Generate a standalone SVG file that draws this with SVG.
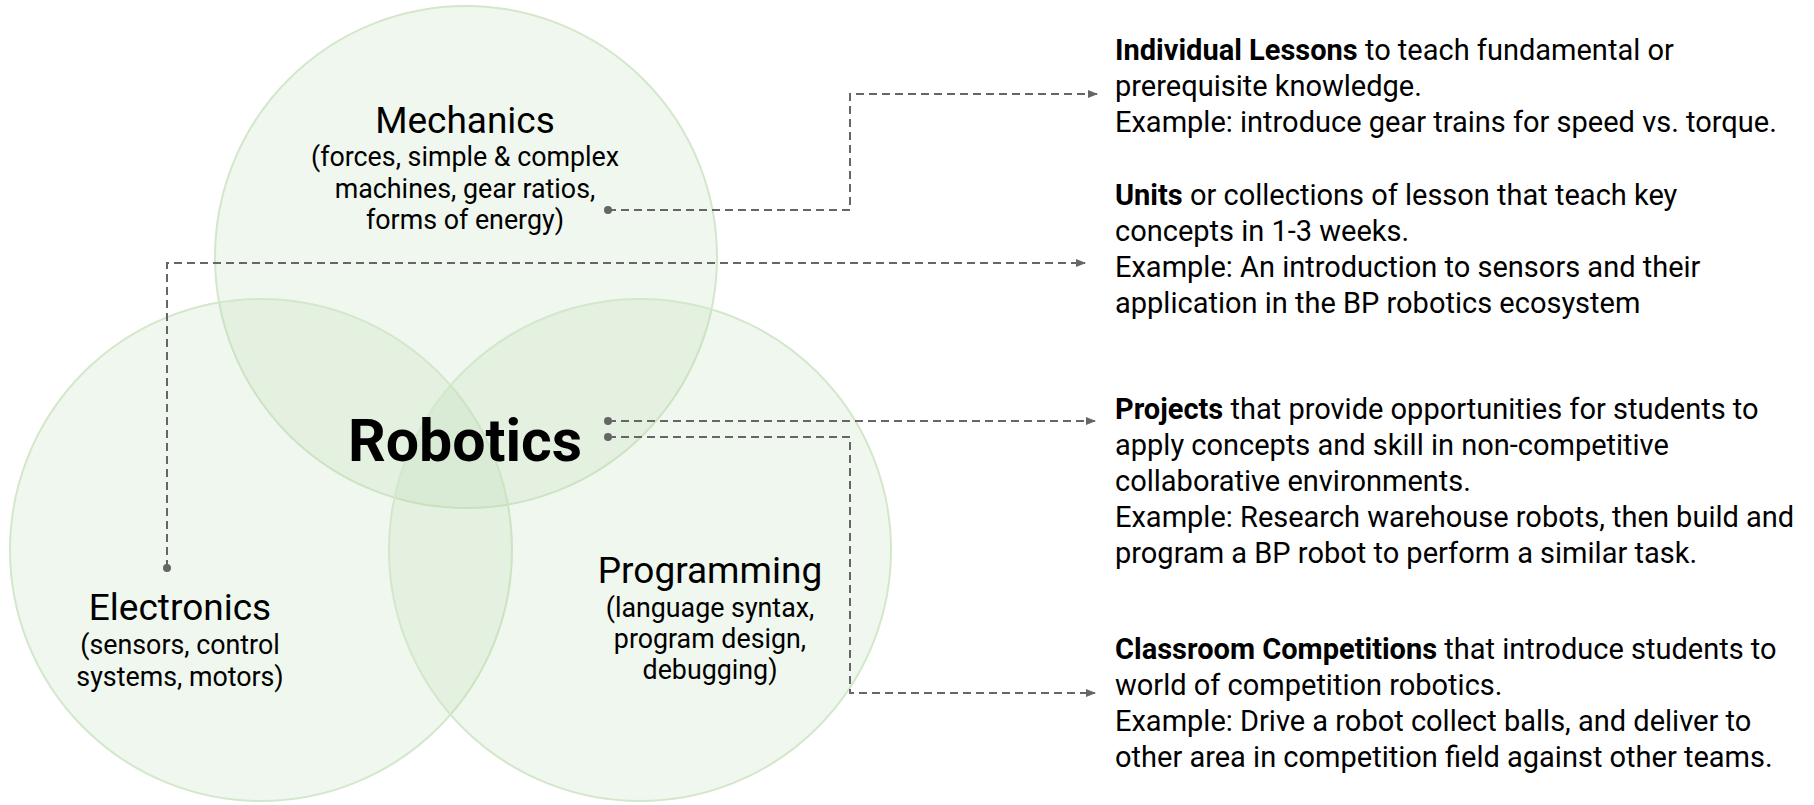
<svg xmlns="http://www.w3.org/2000/svg" width="1814" height="805" viewBox="0 0 1814 805">
<style>
.c{fill:#b6d7a8;fill-opacity:0.2;stroke:#d3e7cb;stroke-width:2}
.t{font-family:Roboto,"Liberation Sans",sans-serif;fill:#000}
.h{font-size:37px;text-anchor:middle}
.s{font-size:26.8px;text-anchor:middle}
.r{font-size:29px}
.b{font-weight:bold}
.ln{fill:none;stroke:#666;stroke-width:2;stroke-dasharray:8 5}
.dot{fill:#666}
</style>
<defs>
<marker id="ah" markerWidth="10" markerHeight="10" refX="9" refY="5" orient="auto" markerUnits="userSpaceOnUse">
<path d="M0,1 L10,5 L0,9 Z" fill="#666"/>
</marker>
</defs>
<rect width="1814" height="805" fill="#fff"/>
<g id="circles">
<circle class="c" cx="466" cy="257" r="251"/>
<circle class="c" cx="261" cy="550" r="251"/>
<circle class="c" cx="640" cy="550" r="251"/>
</g>
<g id="mechanics">
<text class="t h" x="465" y="133">Mechanics</text>
<text class="t s" x="465" y="166">(forces, simple &amp; complex</text>
<text class="t s" x="465" y="198">machines, gear ratios,</text>
<text class="t s" x="465" y="229">forms of energy)</text>
</g>
<g id="electronics">
<text class="t h" x="180" y="620">Electronics</text>
<text class="t s" x="180" y="654">(sensors, control</text>
<text class="t s" x="180" y="686">systems, motors)</text>
</g>
<g id="programming">
<text class="t h" x="710" y="583">Programming</text>
<text class="t s" x="710" y="617">(language syntax,</text>
<text class="t s" x="710" y="648">program design,</text>
<text class="t s" x="710" y="679">debugging)</text>
</g>
<g id="robotics">
<text class="t b" x="465" y="461" font-size="59" text-anchor="middle">Robotics</text>
</g>
<g id="connectors">
<path class="ln" d="M608,210 H850 V94 H1097" marker-end="url(#ah)"/>
<path class="ln" d="M167,568 V263 H1085" marker-end="url(#ah)"/>
<path class="ln" d="M608,421 H1095" marker-end="url(#ah)"/>
<path class="ln" d="M608,437 H850 V693 H1095" marker-end="url(#ah)"/>
<circle class="dot" cx="608" cy="210" r="4"/>
<circle class="dot" cx="167" cy="568" r="4"/>
<circle class="dot" cx="608" cy="421" r="4"/>
<circle class="dot" cx="608" cy="437" r="4"/>
</g>
<g id="lessons">
<text class="t r" x="1115" y="60"><tspan class="b">Individual Lessons</tspan> to teach fundamental or</text>
<text class="t r" x="1115" y="96">prerequisite knowledge.</text>
<text class="t r" x="1115" y="132">Example: introduce gear trains for speed vs. torque.</text>
</g>
<g id="units">
<text class="t r" x="1115" y="205"><tspan class="b">Units</tspan> or collections of lesson that teach key</text>
<text class="t r" x="1115" y="241">concepts in 1-3 weeks.</text>
<text class="t r" x="1115" y="277">Example: An introduction to sensors and their</text>
<text class="t r" x="1115" y="313">application in the BP robotics ecosystem</text>
</g>
<g id="projects">
<text class="t r" x="1115" y="419"><tspan class="b">Projects</tspan> that provide opportunities for students to</text>
<text class="t r" x="1115" y="455">apply concepts and skill in non-competitive</text>
<text class="t r" x="1115" y="491">collaborative environments.</text>
<text class="t r" x="1115" y="527">Example: Research warehouse robots, then build and</text>
<text class="t r" x="1115" y="563">program a BP robot to perform a similar task.</text>
</g>
<g id="competitions">
<text class="t r" x="1115" y="659"><tspan class="b">Classroom Competitions</tspan> that introduce students to</text>
<text class="t r" x="1115" y="695">world of competition robotics.</text>
<text class="t r" x="1115" y="731">Example: Drive a robot collect balls, and deliver to</text>
<text class="t r" x="1115" y="767">other area in competition field against other teams.</text>
</g>
</svg>
